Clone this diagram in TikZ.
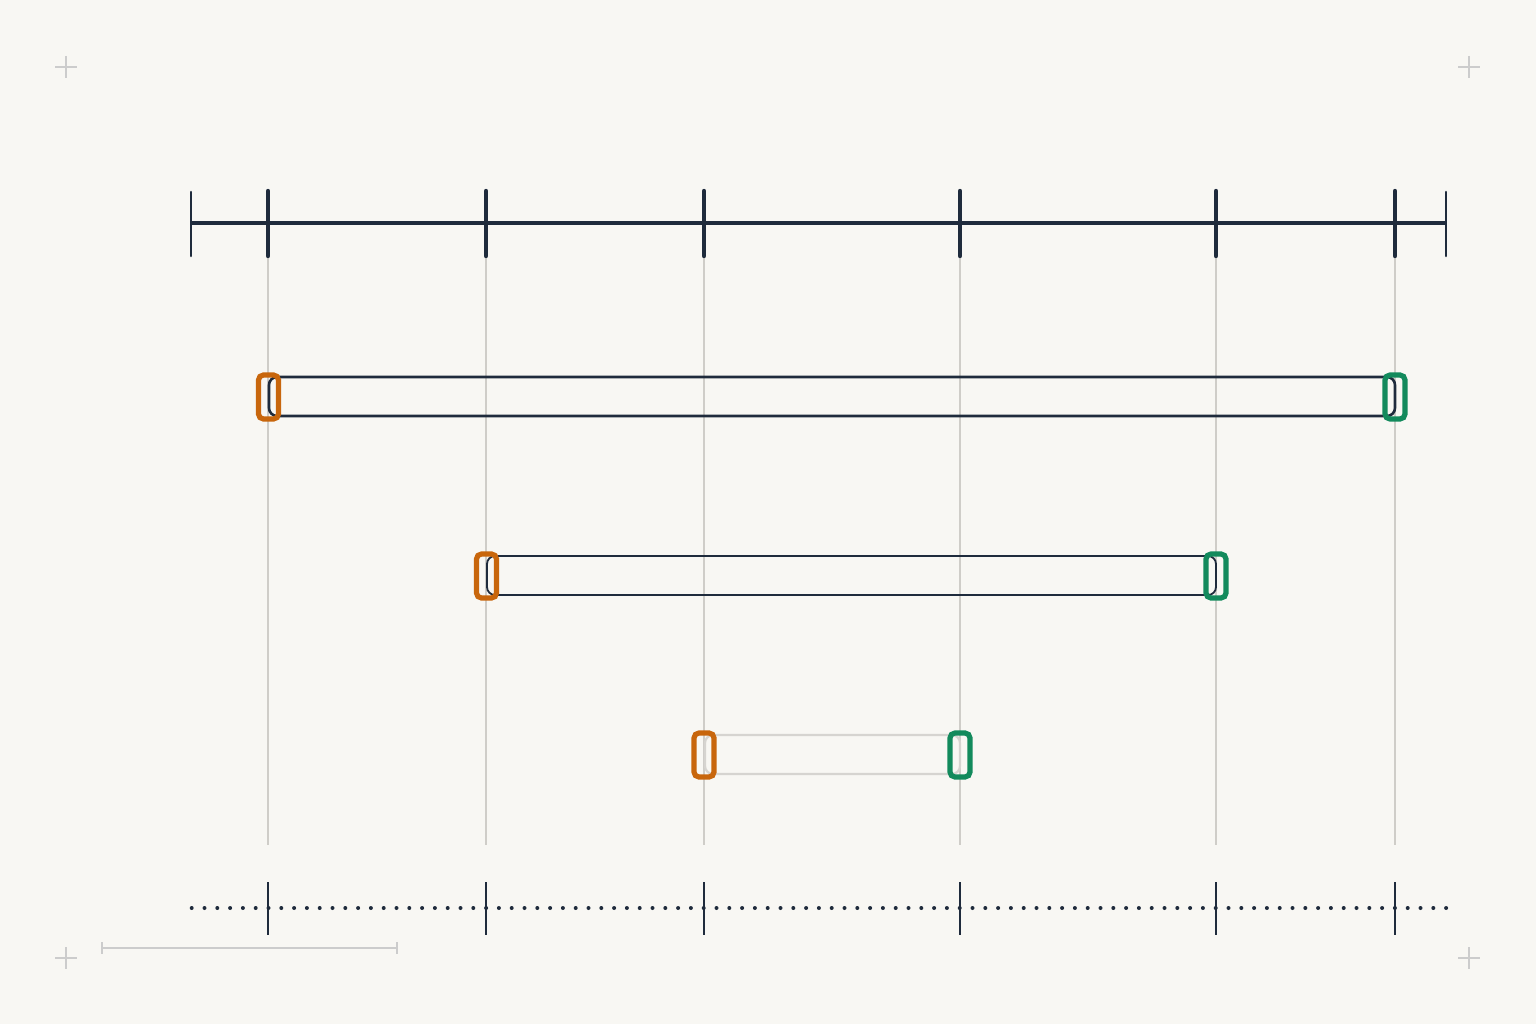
\documentclass[tikz,border=0pt]{standalone}
\begin{document}
\begin{tikzpicture}[x=1pt,y=-1pt,
  guide/.style={draw=guidec,line width=1.4pt},
  axistick/.style={draw=inkc,line width=4.4pt,line cap=round},
  endtick/.style={draw=inkc,line width=2.6pt,line cap=round},
  lowtick/.style={draw=inkc,line width=1.8pt},
  startmark/.style={draw=orangec,line width=5.2pt,rounded corners=5pt,minimum width=20pt,minimum height=44pt,inner sep=0pt,outer sep=0pt},
  endmark/.style={draw=greenc,line width=5.2pt,rounded corners=5pt,minimum width=20pt,minimum height=44pt,inner sep=0pt,outer sep=0pt},
  crossmark/.style={draw=crossc,line width=1.4pt},
]
\definecolor{bgc}{HTML}{F8F7F3}
\definecolor{inkc}{HTML}{1F2B3C}
\definecolor{guidec}{HTML}{CFCDC8}
\definecolor{orangec}{HTML}{C8660C}
\definecolor{greenc}{HTML}{138A5C}
\definecolor{crossc}{HTML}{CCCCCC}
\definecolor{pale}{HTML}{D6D4D0}
\fill[bgc] (0,0) rectangle (1536,1024);
\useasboundingbox (0,0) rectangle (1536,1024);

% corner crosses
\foreach \cx/\cy in {66/67,1469/67,66/958,1469/958}{
  \draw[crossmark] (\cx-11,\cy) -- (\cx+11,\cy);
  \draw[crossmark] (\cx,\cy-11) -- (\cx,\cy+11);
}

% guide lines
\foreach \gx in {268,486,704,960,1216,1395}{
  \draw[guide] (\gx,257) -- (\gx,845);
}

% top axis
\coordinate (axL) at (191,223);
\coordinate (axR) at (1446,223);
\draw[draw=inkc,line width=4.4pt] (axL) -- (axR);
\draw[endtick] (191,192) -- (191,256);
\draw[endtick] (1446,192) -- (1446,256);
\foreach \gx in {268,486,704,960,1216,1395}{
  \draw[axistick] (\gx,191) -- (\gx,256);
}

% bars
\draw[draw=inkc,line width=2.6pt,rounded corners=8pt] (269,377) rectangle (1395,416);
\draw[draw=inkc,line width=1.8pt,rounded corners=8pt] (487,556) rectangle (1216,595);
\draw[draw=pale,line width=2.2pt,rounded corners=8pt] (705,735) rectangle (960,774);

% markers
\node[startmark] (s1) at (268.5,397) {};
\node[endmark] (e1) at (1395,397) {};
\node[startmark] (s2) at (486.5,576) {};
\node[endmark] (e2) at (1216,576) {};
\node[startmark] (s3) at (704,755) {};
\node[endmark] (e3) at (960,755) {};

% bottom dotted axis
\coordinate (bL) at (191.7,908);
\coordinate (bR) at (1447,908);
\draw[draw=inkc,line width=4pt,line cap=round,dash pattern=on 0pt off 12.8pt] (bL) -- (bR);
\foreach \gx in {268,486,704,960,1216,1395}{
  \draw[lowtick] (\gx,882) -- (\gx,935);
}

% scale bar
\coordinate (sbL) at (102,948);
\coordinate (sbR) at (397,948);
\draw[draw=crossc,line width=1.6pt] (sbL) -- (sbR);
\draw[draw=crossc,line width=1.6pt] (102,942) -- (102,954);
\draw[draw=crossc,line width=1.6pt] (397,942) -- (397,954);
\end{tikzpicture}
\end{document}
